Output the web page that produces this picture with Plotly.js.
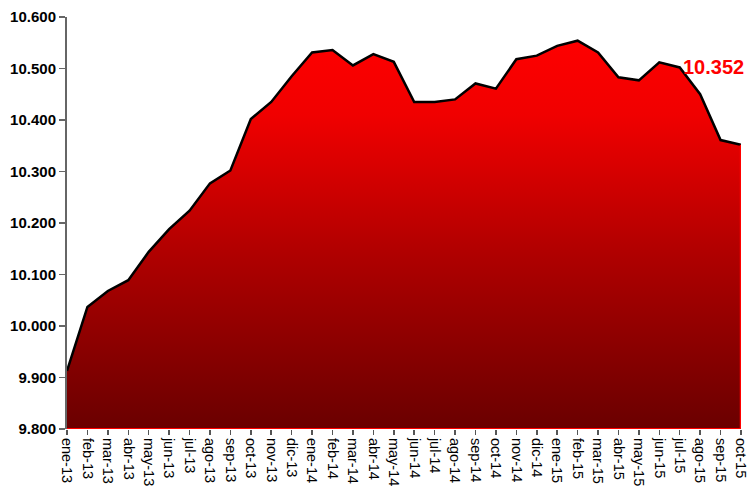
<!DOCTYPE html>
<html>
<head>
<meta charset="utf-8">
<script src="https://cdn.plot.ly/plotly-3.0.1.min.js"></script>
<style>html,body{margin:0;padding:0;background:#fff;}#chart{width:749px;height:494px;}</style>
</head>
<body>
<div id="chart"></div>
<script>
var months = ["ene-13","feb-13","mar-13","abr-13","may-13","jun-13","jul-13","ago-13","sep-13","oct-13","nov-13","dic-13",
  "ene-14","feb-14","mar-14","abr-14","may-14","jun-14","jul-14","ago-14","sep-14","oct-14","nov-14","dic-14",
  "ene-15","feb-15","mar-15","abr-15","may-15","jun-15","jul-15","ago-15","sep-15","oct-15"];
var values = [9.913,10.037,10.068,10.089,10.144,10.188,10.224,10.277,10.302,10.402,10.435,10.485,
  10.531,10.536,10.506,10.528,10.513,10.435,10.435,10.440,10.471,10.461,10.518,10.525,
  10.544,10.554,10.531,10.483,10.477,10.512,10.502,10.450,10.361,10.352];
var yTicks = [9.8,9.9,10.0,10.1,10.2,10.3,10.4,10.5,10.6];

var last = values.length - 1;

var area = {
  x: months, y: values, type: 'scatter', mode: 'lines',
  fill: 'tozeroy',
  fillgradient: {type: 'vertical', start: 9.8, stop: 10.56,
    colorscale: [[0,'#6a0000'],[0.45,'#b00000'],[0.8,'#f00000'],[1,'#ff0000']]},
  line: {color: '#000000', width: 2.5},
  hoverinfo: 'none', showlegend: false
};

var layout = {
  width: 749, height: 494,
  margin: {l: 67, r: 8, t: 17, b: 65},
  paper_bgcolor: '#ffffff', plot_bgcolor: '#ffffff',
  showlegend: false,
  xaxis: {
    type: 'category', range: [0, last],
    showgrid: false, zeroline: false,
    showline: false,
    ticks: 'outside', ticklen: 5, tickwidth: 1.5, tickcolor: '#555555',
    tickangle: 90,
    tickfont: {family: 'Liberation Sans, Arial, sans-serif', size: 14.5, color: '#000000'}
  },
  yaxis: {
    range: [9.8, 10.6],
    tickvals: yTicks, tickformat: '.3f',
    showgrid: false, zeroline: false,
    showline: true, linecolor: '#666666', linewidth: 2,
    ticks: 'outside', ticklen: 6, tickwidth: 1.5, tickcolor: '#666666',
    tickfont: {family: 'Liberation Sans, Arial, sans-serif', size: 15, color: '#000000', weight: 'bold'}
  },
  shapes: [
    {type: 'line', xref: 'paper', yref: 'y', x0: 0, x1: 1, y0: yTicks[0], y1: yTicks[0],
     line: {color: '#ff0000', width: 2}},
    {type: 'line', xref: 'x', yref: 'y', x0: months[last], x1: months[last], y0: yTicks[0], y1: values[last],
     line: {color: '#ff0000', width: 2.5}}
  ],
  annotations: [{
    x: months[last], y: values[last], xref: 'x', yref: 'y',
    text: values[last].toFixed(3), showarrow: false,
    xanchor: 'right', yanchor: 'middle', xshift: 5, yshift: 78,
    font: {family: 'Liberation Sans, Arial, sans-serif', size: 20, color: '#ff0000', weight: 'bold'}
  }]
};

Plotly.newPlot('chart', [area], layout, {displayModeBar: false, staticPlot: true});
</script>
</body>
</html>
